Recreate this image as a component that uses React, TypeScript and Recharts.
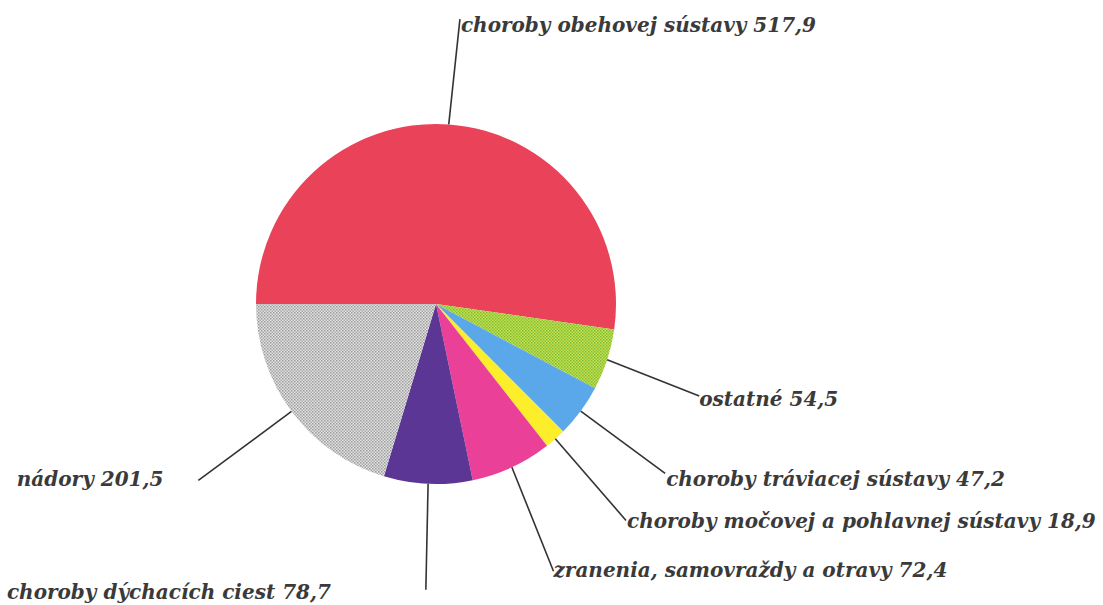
import React from 'react';
import { PieChart, Pie, Cell } from 'recharts';

// causes of death, clockwise from the left edge
const causes = [
  'choroby obehovej sústavy',
  'ostatné',
  'choroby tráviacej sústavy',
  'choroby močovej a pohlavnej sústavy',
  'zranenia, samovraždy a otravy',
  'choroby dýchacích ciest',
  'nádory',
];
const rates = [517.9, 54.5, 47.2, 18.9, 72.4, 78.7, 201.5];

const fills = ['#ea4258', 'url(#greenDots)', '#5aa8ea', '#fcee2a', '#ea4097', '#5c3694', 'url(#grayDots)'];

// leader line length / tilt and text offset from the line end
const labelLayout = [
  { len: 106, tilt: -2, dx: 1, dy: 13, anchor: 'start' },
  { len: 99, tilt: -3.5, dx: 0, dy: 10, anchor: 'start' },
  { len: 105, tilt: 0, dx: 1, dy: 13, anchor: 'start' },
  { len: 108, tilt: -0.6, dx: 1, dy: 8, anchor: 'start' },
  { len: 112, tilt: -3.1, dx: 0, dy: 6, anchor: 'start' },
  { len: 106, tilt: 1.3, dx: -95, dy: 9, anchor: 'end' },
  { len: 116, tilt: 0, dx: -35, dy: 6, anchor: 'end' },
];

const data = causes.map((name, i) => ({ name, value: rates[i] }));

const RAD = Math.PI / 180;

const renderLabel = (props: any) => {
  const { cx, cy, midAngle, outerRadius, index, value } = props;
  const lay = labelLayout[index];
  const sx = cx + outerRadius * Math.cos(-midAngle * RAD);
  const sy = cy + outerRadius * Math.sin(-midAngle * RAD);
  const a = midAngle + lay.tilt;
  const ex = sx + lay.len * Math.cos(-a * RAD);
  const ey = sy + lay.len * Math.sin(-a * RAD);
  return (
    <g>
      <line x1={sx} y1={sy} x2={ex} y2={ey} stroke="#333" strokeWidth={1.6} />
      <text
        x={ex + lay.dx}
        y={ey + lay.dy}
        textAnchor={lay.anchor}
        fill="#3a3a3a"
        fontFamily="'DejaVu Serif', serif"
        fontStyle="italic"
        fontWeight="bold"
        fontSize={20}
      >
        {`${data[index].name} ${value.toFixed(1).replace('.', ',')}`}
      </text>
    </g>
  );
};

export default function App() {
  return (
    <div style={{ width: 1103, height: 605, background: '#fff' }}>
      <style>{'body{margin:0}'}</style>
      <PieChart width={1103} height={605}>
        <defs>
          <pattern id="grayDots" width={3} height={3} patternUnits="userSpaceOnUse">
            <rect width={3} height={3} fill="#e4e4e4" />
            <rect width={1.5} height={1.5} fill="#9a9a9a" />
            <rect x={1.5} y={1.5} width={1.5} height={1.5} fill="#a8a8a8" />
          </pattern>
          <pattern id="greenDots" width={3} height={3} patternUnits="userSpaceOnUse">
            <rect width={3} height={3} fill="#c6e04a" />
            <rect width={1.5} height={1.5} fill="#7fbc3c" />
            <rect x={1.5} y={1.5} width={1.5} height={1.5} fill="#8cc43e" />
          </pattern>
        </defs>
        <Pie
          data={data}
          dataKey="value"
          cx={431}
          cy={299}
          outerRadius={180}
          startAngle={180}
          endAngle={-180}
          stroke="none"
          label={renderLabel}
          labelLine={false}
          isAnimationActive={false}
        >
          {data.map((d, i) => (
            <Cell key={d.name} fill={fills[i]} />
          ))}
        </Pie>
      </PieChart>
    </div>
  );
}
